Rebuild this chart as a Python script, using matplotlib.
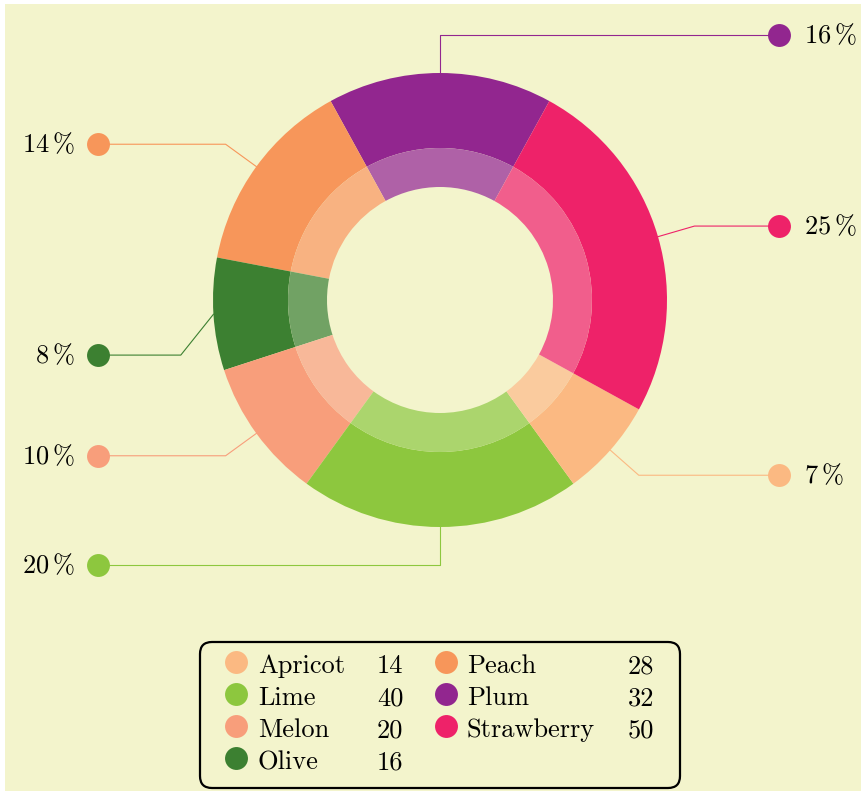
import numpy as np
import matplotlib.pyplot as plt
from matplotlib.patches import Rectangle, FancyBboxPatch
from matplotlib.colors import to_rgb

plt.rcParams['mathtext.fontset'] = 'cm'
plt.rcParams['font.family'] = 'cmr10'

# slices, counter-clockwise starting with Plum on top
names = ['Plum', 'Peach', 'Olive', 'Melon', 'Lime', 'Apricot', 'Strawberry']
counts = [32, 28, 16, 20, 40, 14, 50]
colors = ['#92268F', '#F7965A', '#3C8031', '#F89E7B', '#8DC73E', '#FBB982', '#EE2269']

# legend is alphabetical
legend_names = ['Apricot', 'Lime', 'Melon', 'Olive', 'Peach', 'Plum', 'Strawberry']

# callout layout: side of the dot and a small angular nudge for the elbow
label_side = [1, -1, -1, -1, -1, 1, 1]
elbow_nudge = [0, 0, 8.4, 0, 0, 0, 0]

bg = '#F3F4CC'
W, H = 862, 791
cx, cy = 440, H - 300
r_out, r_mid, r_in = 227, 152, 113

total = sum(counts)
share = [100 * c / total for c in counts]
start = 90 - 0.5 * 360 * counts[0] / total


def lighten(c, k=0.72):
    rgb = np.array(to_rgb(c))
    mix = (np.array(to_rgb(bg)) + 1.0) / 2
    return tuple(k * rgb + (1 - k) * mix)


fig = plt.figure(figsize=(W / 100, H / 100), dpi=100)
fig.patch.set_facecolor('white')
ax = fig.add_axes([0, 0, 1, 1])
ax.set_facecolor('none')

ax.add_patch(Rectangle((5, 0), W - 5, H - 4, fc=bg, ec='none', zorder=0))

# outer ring
wedges, _ = ax.pie(counts, colors=colors, radius=r_out, center=(cx, cy),
                   startangle=start, counterclock=True,
                   wedgeprops=dict(width=r_out - r_mid, linewidth=0))
# inner lighter ring
ax.pie(counts, colors=[lighten(c) for c in colors], radius=r_mid, center=(cx, cy),
       startangle=start, counterclock=True,
       wedgeprops=dict(width=r_mid - r_in, linewidth=0))

# callouts
for w, name, col, pct, side, nudge in zip(wedges, names, colors, share,
                                          label_side, elbow_nudge):
    mid = np.radians(0.5 * (w.theta1 + w.theta2))
    p0 = (cx + r_out * np.cos(mid), cy + r_out * np.sin(mid))
    a = mid + np.radians(nudge)
    p1 = (cx + 265 * np.cos(a), cy + 265 * np.sin(a))
    xdot = 779 if side > 0 else 98
    ax.plot([p0[0], p1[0], xdot], [p0[1], p1[1], p1[1]], color=col, lw=0.8,
            zorder=3)
    ax.plot(xdot, p1[1], 'o', ms=16.5, color=col, mec='none', zorder=4)
    txt = r'$%d\,\%%$' % round(pct)
    if side > 0:
        ax.text(xdot + 25, p1[1] - 8, txt, fontsize=19, ha='left', va='baseline')
    else:
        ax.text(xdot - 23, p1[1] - 8, txt, fontsize=19, ha='right', va='baseline')

# legend box
ax.add_patch(FancyBboxPatch((200, H - 788), 480, 146,
                            boxstyle='round,pad=0,rounding_size=12',
                            fc='none', ec='black', lw=1.6, zorder=3))
lookup = dict(zip(names, zip(counts, colors)))
row_y = [662, 694, 726, 758]
for i, name in enumerate(legend_names):
    n, col = lookup[name]
    if i < 4:
        xm, xt, xn, yr = 236, 258, 377, row_y[i]
    else:
        xm, xt, xn, yr = 446, 467, 628, row_y[i - 4]
    y = H - yr
    ax.plot(xm, y, 'o', ms=16.5, color=col, mec='none', zorder=4)
    ax.text(xt, y - 11, name, fontsize=19, ha='left', va='baseline')
    ax.text(xn, y - 11, str(n), fontsize=19, ha='left', va='baseline')

ax.set_xlim(0, W)
ax.set_ylim(0, H)
ax.set_aspect('equal')
ax.set_axis_off()

fig.savefig('out.png', dpi=100, facecolor='white')
